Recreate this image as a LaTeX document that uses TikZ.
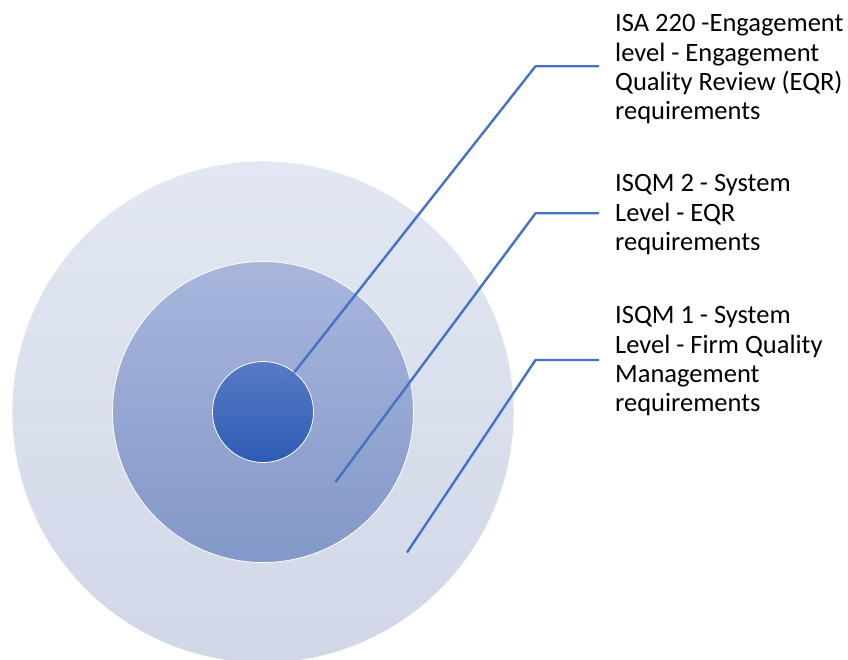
\documentclass[tikz,border=0pt]{standalone}
\usepackage{fontspec}
\setmainfont{Carlito}
\usetikzlibrary{calc}
\definecolor{outerTop}{RGB}{226,231,243}
\definecolor{outerBot}{RGB}{209,215,231}
\definecolor{midTop}{RGB}{168,182,220}
\definecolor{midBot}{RGB}{130,152,200}
\definecolor{innTop}{RGB}{88,122,196}
\definecolor{innBot}{RGB}{45,91,180}
\definecolor{leader}{RGB}{68,114,196}
\tikzset{
  ring/.style={circle, draw=white, line width=0.8pt, inner sep=0pt},
  leaderline/.style={draw=leader, line width=2.4pt},
  label/.style={anchor=north west, inner sep=0pt, align=left,
    font=\fontsize{26.5}{29.3}\selectfont, text=black}
}
\begin{document}
\begin{tikzpicture}[x=1pt, y=-1pt]
  \useasboundingbox (0,0) rectangle (848,660);
  % concentric rings
  \node[ring, minimum size=502pt, top color=outerTop, bottom color=outerBot] (outer) at (263,412) {};
  \node[ring, minimum size=301pt, top color=midTop, bottom color=midBot] (middle) at (263,412) {};
  \node[ring, minimum size=101pt, top color=innTop, bottom color=innBot] (inner) at (263,412) {};

  % labels
  \node[label] (t1) at (615,14.5) {ISA 220 -Engagement\\level - Engagement\\Quality Review (EQR)\\requirements};
  \node[label] (t2) at (615,174.5) {ISQM 2 - System\\Level - EQR\\requirements};
  \node[label] (t3) at (615,306.5) {ISQM 1 - System\\Level - Firm Quality\\Management\\requirements};

  % leader anchors
  \coordinate (s1) at (inner.center);
  \coordinate (s2) at (335.5,482);
  \coordinate (s3) at (407,552.5);
  \coordinate (e1) at (535.5,66.3);
  \coordinate (e2) at (535.5,213.3);
  \coordinate (e3) at (535.5,360);
  \coordinate (h1) at (599,66.3);
  \coordinate (h2) at (599,213.3);
  \coordinate (h3) at (599,360);

  % leader lines (the first one fades out inside the core)
  \coordinate (c1) at ($(s1)!50.5pt!(e1)$);
  \coordinate (m1) at ($(s1)!0.5!(c1)$);
  \draw[leaderline, draw opacity=0.15] (s1) -- (m1);
  \draw[leaderline, draw opacity=0.45] (m1) -- (c1);
  \draw[leaderline] (c1) -- (e1) -- (h1);
  \draw[leaderline] (s2) -- (e2) -- (h2);
  \draw[leaderline] (s3) -- (e3) -- (h3);
\end{tikzpicture}
\end{document}
